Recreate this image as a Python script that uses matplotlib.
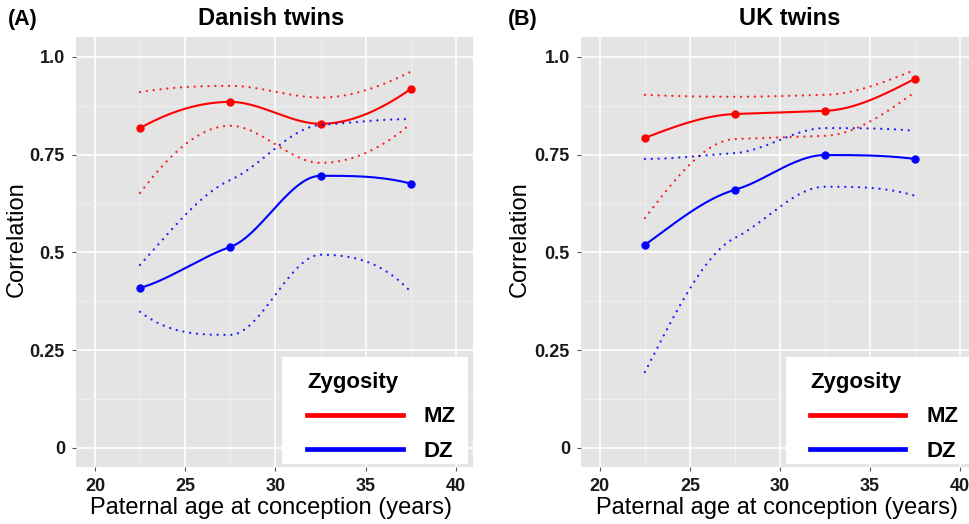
import numpy as np
import matplotlib
matplotlib.use("Agg")
import matplotlib.pyplot as plt
from matplotlib.lines import Line2D
from matplotlib.patches import Rectangle

plt.rcParams['font.family'] = ['Liberation Sans', 'DejaVu Sans']

# ---- data ----
ages = [22.5, 27.5, 32.5, 37.5]

dk_mz = [0.818, 0.885, 0.829, 0.918]
dk_mz_hi = [0.910, 0.926, 0.896, 0.962]
dk_mz_lo = [0.652, 0.824, 0.729, 0.829]
dk_dz = [0.409, 0.514, 0.696, 0.676]
dk_dz_hi = [0.468, 0.685, 0.826, 0.841]
dk_dz_lo = [0.348, 0.289, 0.494, 0.399]

uk_mz = [0.793, 0.854, 0.862, 0.944]
uk_mz_hi = [0.903, 0.898, 0.903, 0.967]
uk_mz_lo = [0.588, 0.790, 0.798, 0.910]
uk_dz = [0.519, 0.660, 0.749, 0.739]
uk_dz_hi = [0.739, 0.754, 0.818, 0.811]
uk_dz_lo = [0.194, 0.537, 0.668, 0.645]

panel_titles = ["Danish twins", "UK twins"]
panel_tags = ["(A)", "(B)"]
xticks = [20, 25, 30, 35, 40]
yticks = [0, 0.25, 0.5, 0.75, 1.0]
ytick_labels = ["0", "0.25", "0.5", "0.75", "1.0"]
groups = ["MZ", "DZ"]
colors = {"MZ": "#FF0000", "DZ": "#0000FF"}


def smooth_curve(x, y, xs, tension=0.6):
    """Monotone-preserving cubic Hermite curve through the points."""
    x = np.asarray(x, float); y = np.asarray(y, float)
    h = np.diff(x); d = np.diff(y) / h
    n = len(x); m = np.zeros(n)
    for k in range(1, n - 1):
        if d[k - 1] * d[k] > 0:
            w1 = 2 * h[k] + h[k - 1]; w2 = h[k] + 2 * h[k - 1]
            m[k] = tension * (w1 + w2) / (w1 / d[k - 1] + w2 / d[k])
    def endslope(h0, h1, d0, d1):
        s = ((2 * h0 + h1) * d0 - h0 * d1) / (h0 + h1)
        if np.sign(s) != np.sign(d0):
            s = 0.0
        elif np.sign(d0) != np.sign(d1) and abs(s) > abs(3 * d0):
            s = 3 * d0
        return s
    m[0] = endslope(h[0], h[1], d[0], d[1])
    m[-1] = endslope(h[-1], h[-2], d[-1], d[-2])
    xs = np.asarray(xs, float)
    idx = np.clip(np.searchsorted(x, xs) - 1, 0, n - 2)
    t = (xs - x[idx]) / h[idx]
    h00 = 2 * t**3 - 3 * t**2 + 1; h10 = t**3 - 2 * t**2 + t
    h01 = -2 * t**3 + 3 * t**2; h11 = t**3 - t**2
    return (h00 * y[idx] + h10 * h[idx] * m[idx] + h01 * y[idx + 1]
            + h11 * h[idx] * m[idx + 1])


panels = [
    {"MZ": (dk_mz, dk_mz_lo, dk_mz_hi), "DZ": (dk_dz, dk_dz_lo, dk_dz_hi)},
    {"MZ": (uk_mz, uk_mz_lo, uk_mz_hi), "DZ": (uk_dz, uk_dz_lo, uk_dz_hi)},
]

fig = plt.figure(figsize=(9.7, 5.24), dpi=100)
W, H = 970, 524
axes_px = [(76, 37, 397, 430), (581, 37, 396, 430)]
title_x = [0.491, 0.528]
xlabel_x = [0.491, 0.495]
ylabel_x = [-0.149, -0.154]
tag_px = [(8, 20), (508, 20)]
legend_rect = [(0.519, 0.007, 0.468, 0.249), (0.518, 0.007, 0.50, 0.249)]
legend_anchor = [(0.582, 0.222), (0.578, 0.222)]

xs = np.linspace(ages[0], ages[-1], 300)

for i, (px, py, pw, ph) in enumerate(axes_px):
    ax = fig.add_axes([px / W, 1 - (py + ph) / H, pw / W, ph / H])
    ax.set_facecolor("#E4E4E4")
    for s in ax.spines.values():
        s.set_visible(False)
    ax.set_xlim(18.95, 40.95)
    ax.set_ylim(-0.049, 1.051)
    ax.set_xticks(xticks)
    ax.set_xticks([22.5, 27.5, 32.5, 37.5], minor=True)
    ax.set_yticks(yticks)
    ax.set_yticks([0.125, 0.375, 0.625, 0.875], minor=True)
    ax.set_yticklabels(ytick_labels)
    ax.grid(True, which="major", color="white", linewidth=1.2)
    ax.grid(True, which="minor", color="#F0F0F0", linewidth=0.6)
    ax.set_axisbelow(True)
    ax.tick_params(which="major", length=3, width=0.8, color="#555555",
                   labelsize=13, pad=5)
    ax.tick_params(which="minor", length=0)
    for lab in ax.get_xticklabels() + ax.get_yticklabels():
        lab.set_fontweight("bold")
        lab.set_color("#1a1a1a")

    for g in groups:
        est, lo, hi = panels[i][g]
        c = colors[g]
        for band in (hi, lo):
            ax.plot(xs, smooth_curve(ages, band, xs), color=c, lw=1.7,
                    linestyle=(0, (0.01, 2.9)), dash_capstyle="round",
                    alpha=0.85)
        ax.plot(xs, smooth_curve(ages, est, xs), color=c, lw=1.5)
        ax.plot(ages, est, "o", color=c, ms=5)

    ax.set_title(panel_titles[i], fontsize=17, fontweight="bold",
                 x=title_x[i], y=1.042, va="center", pad=0)
    ax.set_xlabel("Paternal age at conception (years)", fontsize=17)
    ax.xaxis.set_label_coords(xlabel_x[i], -0.095)
    ax.xaxis.label.set_va("center")
    ax.set_ylabel("Correlation", fontsize=17)
    ax.yaxis.set_label_coords(ylabel_x[i], 0.53)
    ax.yaxis.label.set_va("center")

    rx, ry, rw, rh = legend_rect[i]
    ax.add_patch(Rectangle((rx, ry), rw, rh, transform=ax.transAxes,
                           facecolor="white", edgecolor="none", zorder=4,
                           clip_on=False))
    handles = [Line2D([], [], color=colors[g], lw=3.4) for g in groups]
    leg = ax.legend(handles, groups, title="Zygosity", loc="upper left",
                    bbox_to_anchor=legend_anchor[i],
                    prop={"weight": "bold", "size": 16},
                    title_fontproperties={"weight": "bold", "size": 16},
                    handlelength=4.3, handletextpad=0.95, labelspacing=0.62,
                    borderpad=0, frameon=False, alignment="left",
                    borderaxespad=0)
    leg.set_zorder(5)

    fig.text(tag_px[i][0] / W, 1 - tag_px[i][1] / H, panel_tags[i],
             fontsize=15.5, fontweight="bold", va="center", ha="left")

fig.savefig("out.png", dpi=100)
